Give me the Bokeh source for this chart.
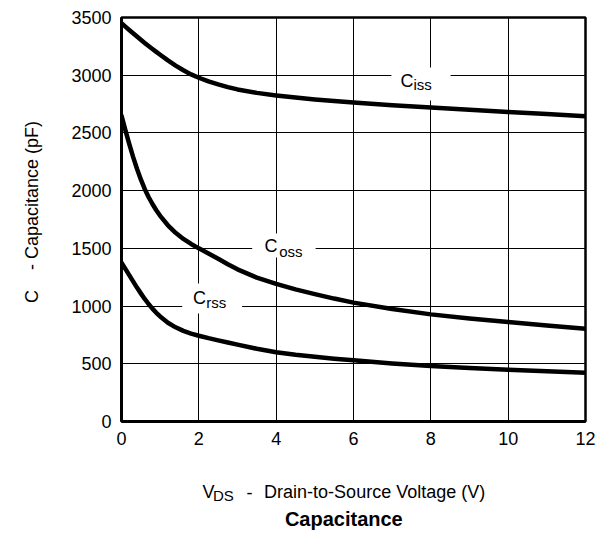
from bokeh.plotting import figure
from bokeh.models import Label, FixedTicker, Range1d
from bokeh.layouts import column
from bokeh.embed import file_html
from bokeh.resources import INLINE

# ---- data ----
vds = [0, 0.1, 0.2, 0.3, 0.4, 0.5, 0.6, 0.7, 0.8, 0.9, 1.0, 1.2, 1.4, 1.6, 1.8, 2.0,
       2.25, 2.5, 2.75, 3.0, 3.5, 4.0, 4.5, 5.0, 5.5, 6, 7, 8, 9, 10, 11, 12]
ciss = [3450, 3421, 3392, 3363, 3335, 3307, 3280, 3253, 3227, 3202, 3177, 3128, 3083, 3043, 3007, 2978,
        2946, 2920, 2897, 2877, 2847, 2825, 2806, 2790, 2776, 2764, 2740, 2720, 2700, 2681, 2663, 2645]
coss = [2650, 2525, 2405, 2293, 2190, 2097, 2015, 1945, 1884, 1830, 1782, 1700, 1635, 1582, 1538, 1500,
        1456, 1410, 1362, 1318, 1246, 1192, 1145, 1104, 1065, 1030, 975, 928, 892, 862, 832, 804]
crss = [1376, 1322, 1268, 1214, 1160, 1110, 1062, 1018, 978, 942, 910, 856, 816, 785, 762, 743,
        722, 703, 684, 666, 630, 600, 578, 560, 544, 530, 502, 480, 463, 448, 435, 423]

x_ticks = [0, 2, 4, 6, 8, 10, 12]
y_ticks = [0, 500, 1000, 1500, 2000, 2500, 3000, 3500]

FONT = "Liberation Sans"
NB = "\u00a0"

# ---------------- main chart ----------------
p = figure(frame_width=464, frame_height=404,
           min_border_left=121, min_border_right=23, min_border_top=17, min_border_bottom=35,
           x_range=Range1d(0, 12), y_range=Range1d(0, 3500),
           output_backend="svg", toolbar_location=None)

p.background_fill_color = "white"
p.border_fill_color = "white"
p.outline_line_color = "black"
p.outline_line_width = 2.5

for ax, ticks, standoff in ((p.xaxis, x_ticks, 10), (p.yaxis, y_ticks, 10)):
    ax.ticker = FixedTicker(ticks=ticks)
    ax.major_tick_in = 0
    ax.major_tick_out = 0
    ax.minor_tick_in = 0
    ax.minor_tick_out = 0
    ax.major_tick_line_color = None
    ax.minor_tick_line_color = None
    ax.axis_line_color = "black"
    ax.axis_line_width = 3
    ax.major_label_text_font = FONT
    ax.major_label_text_font_size = "18px"
    ax.major_label_text_color = "black"
    ax.major_label_standoff = standoff

p.yaxis.axis_label = NB * 3 + "C" + NB * 4 + "-" + NB + "Capacitance (pF)"
p.yaxis.axis_label_text_font = FONT
p.yaxis.axis_label_text_font_size = "18px"
p.yaxis.axis_label_text_font_style = "normal"
p.yaxis.axis_label_text_color = "black"
p.yaxis.axis_label_standoff = 26

p.xgrid.grid_line_color = "black"
p.ygrid.grid_line_color = "black"
p.xgrid.grid_line_width = 1
p.ygrid.grid_line_width = 1
p.xgrid.grid_line_alpha = 1
p.ygrid.grid_line_alpha = 1

# white boxes behind the curve labels
p.quad(left=[6.98, 3.38, 1.57], right=[8.51, 5.02, 3.12],
       bottom=[2781, 1421, 936], top=[3067, 1629, 1195],
       fill_color="white", line_color=None)

for ys in (ciss, coss, crss):
    p.line(vds, ys, line_width=4.5, line_color="black", line_join="round", line_cap="round")


def lab(fig, x, y, text, size, align="left", bold=False):
    fig.add_layout(Label(x=x, y=y, text=text, x_units="data", y_units="data",
                         text_font=FONT, text_font_size=size, text_color="black",
                         text_align=align, text_baseline="middle",
                         text_font_style="bold" if bold else "normal"))


lab(p, 7.215, 2952, "C", "18px")
lab(p, 7.55, 2920, "iss", "15px")
lab(p, 3.701, 1518, "C", "18px")
lab(p, 4.078, 1476, "oss", "15px")
lab(p, 1.847, 1070, "C", "18px")
lab(p, 2.190, 1032, "rss", "15px")

# ---------------- strip below: x axis title and caption ----------------
# its frame is aligned with the chart's frame (page x 121..585), so page x is used directly
q = figure(width=608, height=77, min_border=0,
           x_range=Range1d(121, 585), y_range=Range1d(533, 456),
           x_axis_type=None, y_axis_type=None,
           output_backend="svg", toolbar_location=None)
q.outline_line_color = None
q.background_fill_color = "white"
q.border_fill_color = "white"
q.xgrid.visible = False
q.ygrid.visible = False

lab(q, 202, 491.5, "V", "18px")
lab(q, 212.4, 495, "DS", "15px")
lab(q, 246, 491.5, "-", "18px")
lab(q, 263.6, 491.8, "Drain-to-Source Voltage (V)", "18px")
lab(q, 343.3, 518.3, "Capacitance", "20px", align="center", bold=True)

layout = column(p, q, spacing=0)
open("out.html", "w").write(file_html(layout, INLINE))
